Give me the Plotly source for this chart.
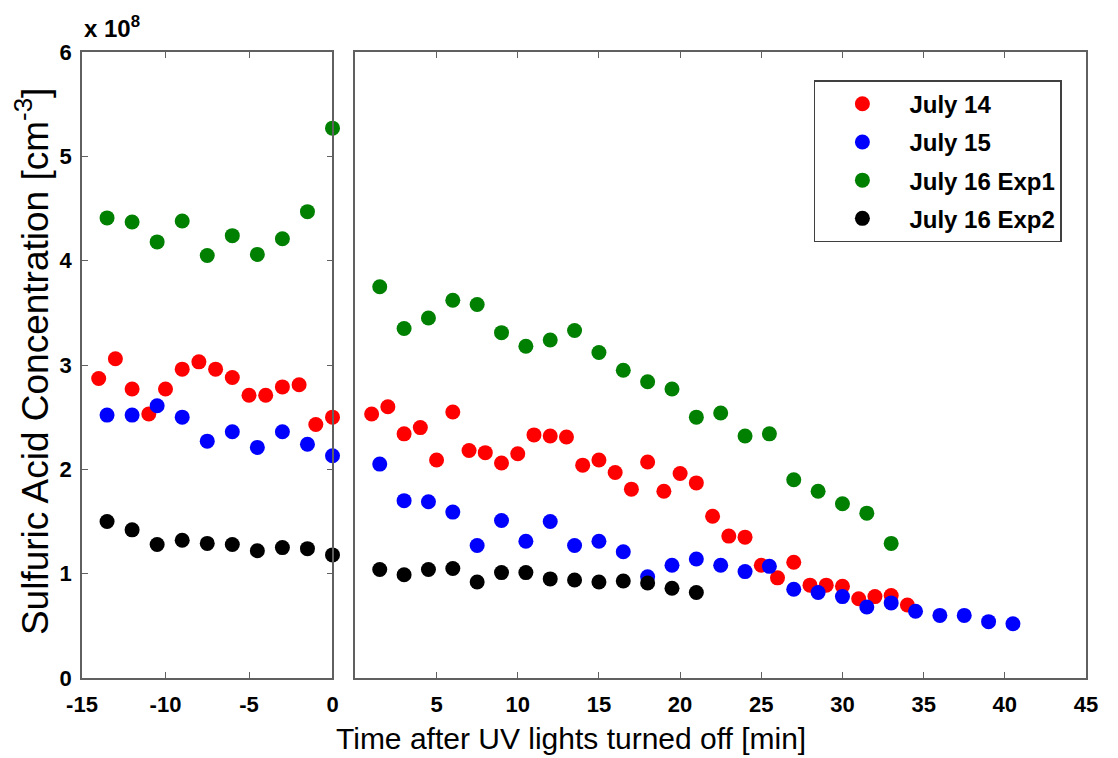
import plotly.graph_objects as go

# ---------------- data (concentration in units of 1e8 cm^-3) ----------------
series_names = ["July 14", "July 15", "July 16 Exp1", "July 16 Exp2"]
series_colors = ["#ff0000", "#0000ff", "#008000", "#000000"]

# Before lights off (left panel)
jul14_t_before = [-14, -13, -12, -11, -10, -9, -8, -7, -6, -5, -4, -3, -2, -1, 0]
jul14_before = [2.87, 3.06, 2.77, 2.53, 2.77, 2.96, 3.03, 2.96, 2.88, 2.71, 2.71, 2.79, 2.81, 2.43, 2.50]

jul15_t_before = [-13.5, -12, -10.5, -9, -7.5, -6, -4.5, -3, -1.5, 0]
jul15_before = [2.52, 2.52, 2.61, 2.50, 2.27, 2.36, 2.21, 2.36, 2.24, 2.13]

jul16a_t_before = [-13.5, -12, -10.5, -9, -7.5, -6, -4.5, -3, -1.5, 0]
jul16a_before = [4.41, 4.37, 4.18, 4.38, 4.05, 4.24, 4.06, 4.21, 4.47, 5.27]

jul16b_t_before = [-13.5, -12, -10.5, -9, -7.5, -6, -4.5, -3, -1.5, 0]
jul16b_before = [1.50, 1.42, 1.28, 1.32, 1.29, 1.28, 1.22, 1.25, 1.24, 1.18]

# After lights off (right panel)
jul14_t_after = [1, 2, 3, 4, 5, 6, 7, 8, 9, 10, 11, 12, 13, 14, 15, 16, 17,
                 18, 19, 20, 21, 22, 23, 24, 25, 26, 27, 28, 29, 30, 31, 32, 33, 34]
jul14_after = [2.53, 2.60, 2.34, 2.40, 2.09, 2.55, 2.18, 2.16, 2.06, 2.15, 2.33, 2.32,
               2.31, 2.04, 2.09, 1.97, 1.81, 2.07, 1.79, 1.96, 1.87, 1.55, 1.36, 1.35,
               1.08, 0.96, 1.11, 0.89, 0.89, 0.88, 0.76, 0.78, 0.79, 0.70]

jul15_t_after = [1.5, 3, 4.5, 6, 7.5, 9, 10.5, 12, 13.5, 15, 16.5, 18, 19.5, 21, 22.5,
                 24, 25.5, 27, 28.5, 30, 31.5, 33, 34.5, 36, 37.5, 39, 40.5]
jul15_after = [2.05, 1.70, 1.69, 1.59, 1.27, 1.51, 1.31, 1.50, 1.27, 1.31, 1.21, 0.97,
               1.08, 1.14, 1.08, 1.02, 1.07, 0.85, 0.82, 0.78, 0.68, 0.72, 0.64, 0.60,
               0.60, 0.54, 0.52]

jul16a_t_after = [1.5, 3, 4.5, 6, 7.5, 9, 10.5, 12, 13.5, 15, 16.5, 18, 19.5, 21, 22.5,
                  24, 25.5, 27, 28.5, 30, 31.5, 33]
jul16a_after = [3.75, 3.35, 3.45, 3.62, 3.58, 3.31, 3.18, 3.24, 3.33, 3.12, 2.95, 2.84,
                2.77, 2.50, 2.54, 2.32, 2.34, 1.90, 1.79, 1.67, 1.58, 1.29]

jul16b_t_after = [1.5, 3, 4.5, 6, 7.5, 9, 10.5, 12, 13.5, 15, 16.5, 18, 19.5, 21]
jul16b_after = [1.04, 0.99, 1.04, 1.05, 0.92, 1.01, 1.01, 0.95, 0.94, 0.92, 0.93, 0.91,
                0.86, 0.82]

left_ticks = [-15, -10, -5, 0]
left_tick_labels = ["-15", "-10", "-5", "0"]
right_ticks = [5, 10, 15, 20, 25, 30, 35, 40, 45]
right_tick_labels = ["5", "10", "15", "20", "25", "30", "35", "40", "45"]
y_ticks = [0, 1, 2, 3, 4, 5, 6]

before = [(jul14_t_before, jul14_before), (jul15_t_before, jul15_before),
          (jul16a_t_before, jul16a_before), (jul16b_t_before, jul16b_before)]
after = [(jul14_t_after, jul14_after), (jul15_t_after, jul15_after),
         (jul16a_t_after, jul16a_after), (jul16b_t_after, jul16b_after)]

# ---------------- figure ----------------
FONT = "Liberation Sans, Arial, Helvetica, sans-serif"
AX = "#606060"
MS = 15

fig = go.Figure()
for i, name in enumerate(series_names):
    tb, vb = before[i]
    fig.add_trace(go.Scatter(x=tb, y=vb, mode="markers", name=name,
                             marker=dict(color=series_colors[i], size=MS, line=dict(width=0)),
                             xaxis="x", yaxis="y", showlegend=False, legendgroup=name,
                             cliponaxis=False))
for i, name in enumerate(series_names):
    ta, va = after[i]
    fig.add_trace(go.Scatter(x=ta, y=va, mode="markers", name=name,
                             marker=dict(color=series_colors[i], size=MS, line=dict(width=0)),
                             xaxis="x2", yaxis="y2", showlegend=True, legendgroup=name,
                             cliponaxis=False))

tickfont = dict(family=FONT, size=22, color="black", weight="bold")
common_axis = dict(showgrid=False, zeroline=False, showline=True, linecolor=AX,
                   linewidth=1.5, ticks="inside", ticklen=6, tickcolor=AX, tickwidth=1.2,
                   mirror="ticks", tickfont=tickfont)

fig.update_layout(
    width=1102, height=750,
    margin=dict(l=74, r=18, t=44, b=80),
    paper_bgcolor="white", plot_bgcolor="white",
    xaxis=dict(domain=[0, 0.2495], range=[-15, 0], tickvals=left_ticks,
               ticktext=left_tick_labels, anchor="y", ticklabelstandoff=6, **common_axis),
    xaxis2=dict(domain=[0.2723, 1], range=[0, 45], tickvals=right_ticks,
                ticktext=right_tick_labels, anchor="y2", ticklabelstandoff=6, **common_axis),
    yaxis=dict(domain=[0, 1], range=[0, 6], tickvals=y_ticks, anchor="x",
               ticklabelstandoff=4, **common_axis),
    yaxis2=dict(domain=[0, 1], range=[0, 6], anchor="x2", showgrid=False, zeroline=False,
                showline=True, linecolor=AX, linewidth=1.5, mirror=True, ticks="",
                showticklabels=False),
    legend=dict(x=0.976, xanchor="right", y=0.955, yanchor="top",
                bgcolor="white", bordercolor="#404040", borderwidth=1.5,
                font=dict(family=FONT, size=24, color="black", weight="bold"),
                tracegroupgap=4, traceorder="grouped", itemwidth=84),
    annotations=[
        dict(text="<b>x 10<sup>8</sup></b>", xref="paper", yref="paper", x=0, y=1.012,
             xanchor="left", yanchor="bottom", showarrow=False,
             font=dict(family=FONT, size=24, color="black")),
        dict(text="Sulfuric Acid Concentration [cm<sup>-3</sup>]", xref="paper", yref="paper",
             x=-0.0486, y=0.505, xanchor="center", yanchor="middle", textangle=-90,
             showarrow=False, font=dict(family=FONT, size=37, color="black")),
        dict(text="Time after UV lights turned off [min]", xref="paper", yref="paper",
             x=0.487, y=-0.0974, xanchor="center", yanchor="middle", showarrow=False,
             font=dict(family=FONT, size=30, color="black")),
    ],
)

fig.write_html("out.html")
